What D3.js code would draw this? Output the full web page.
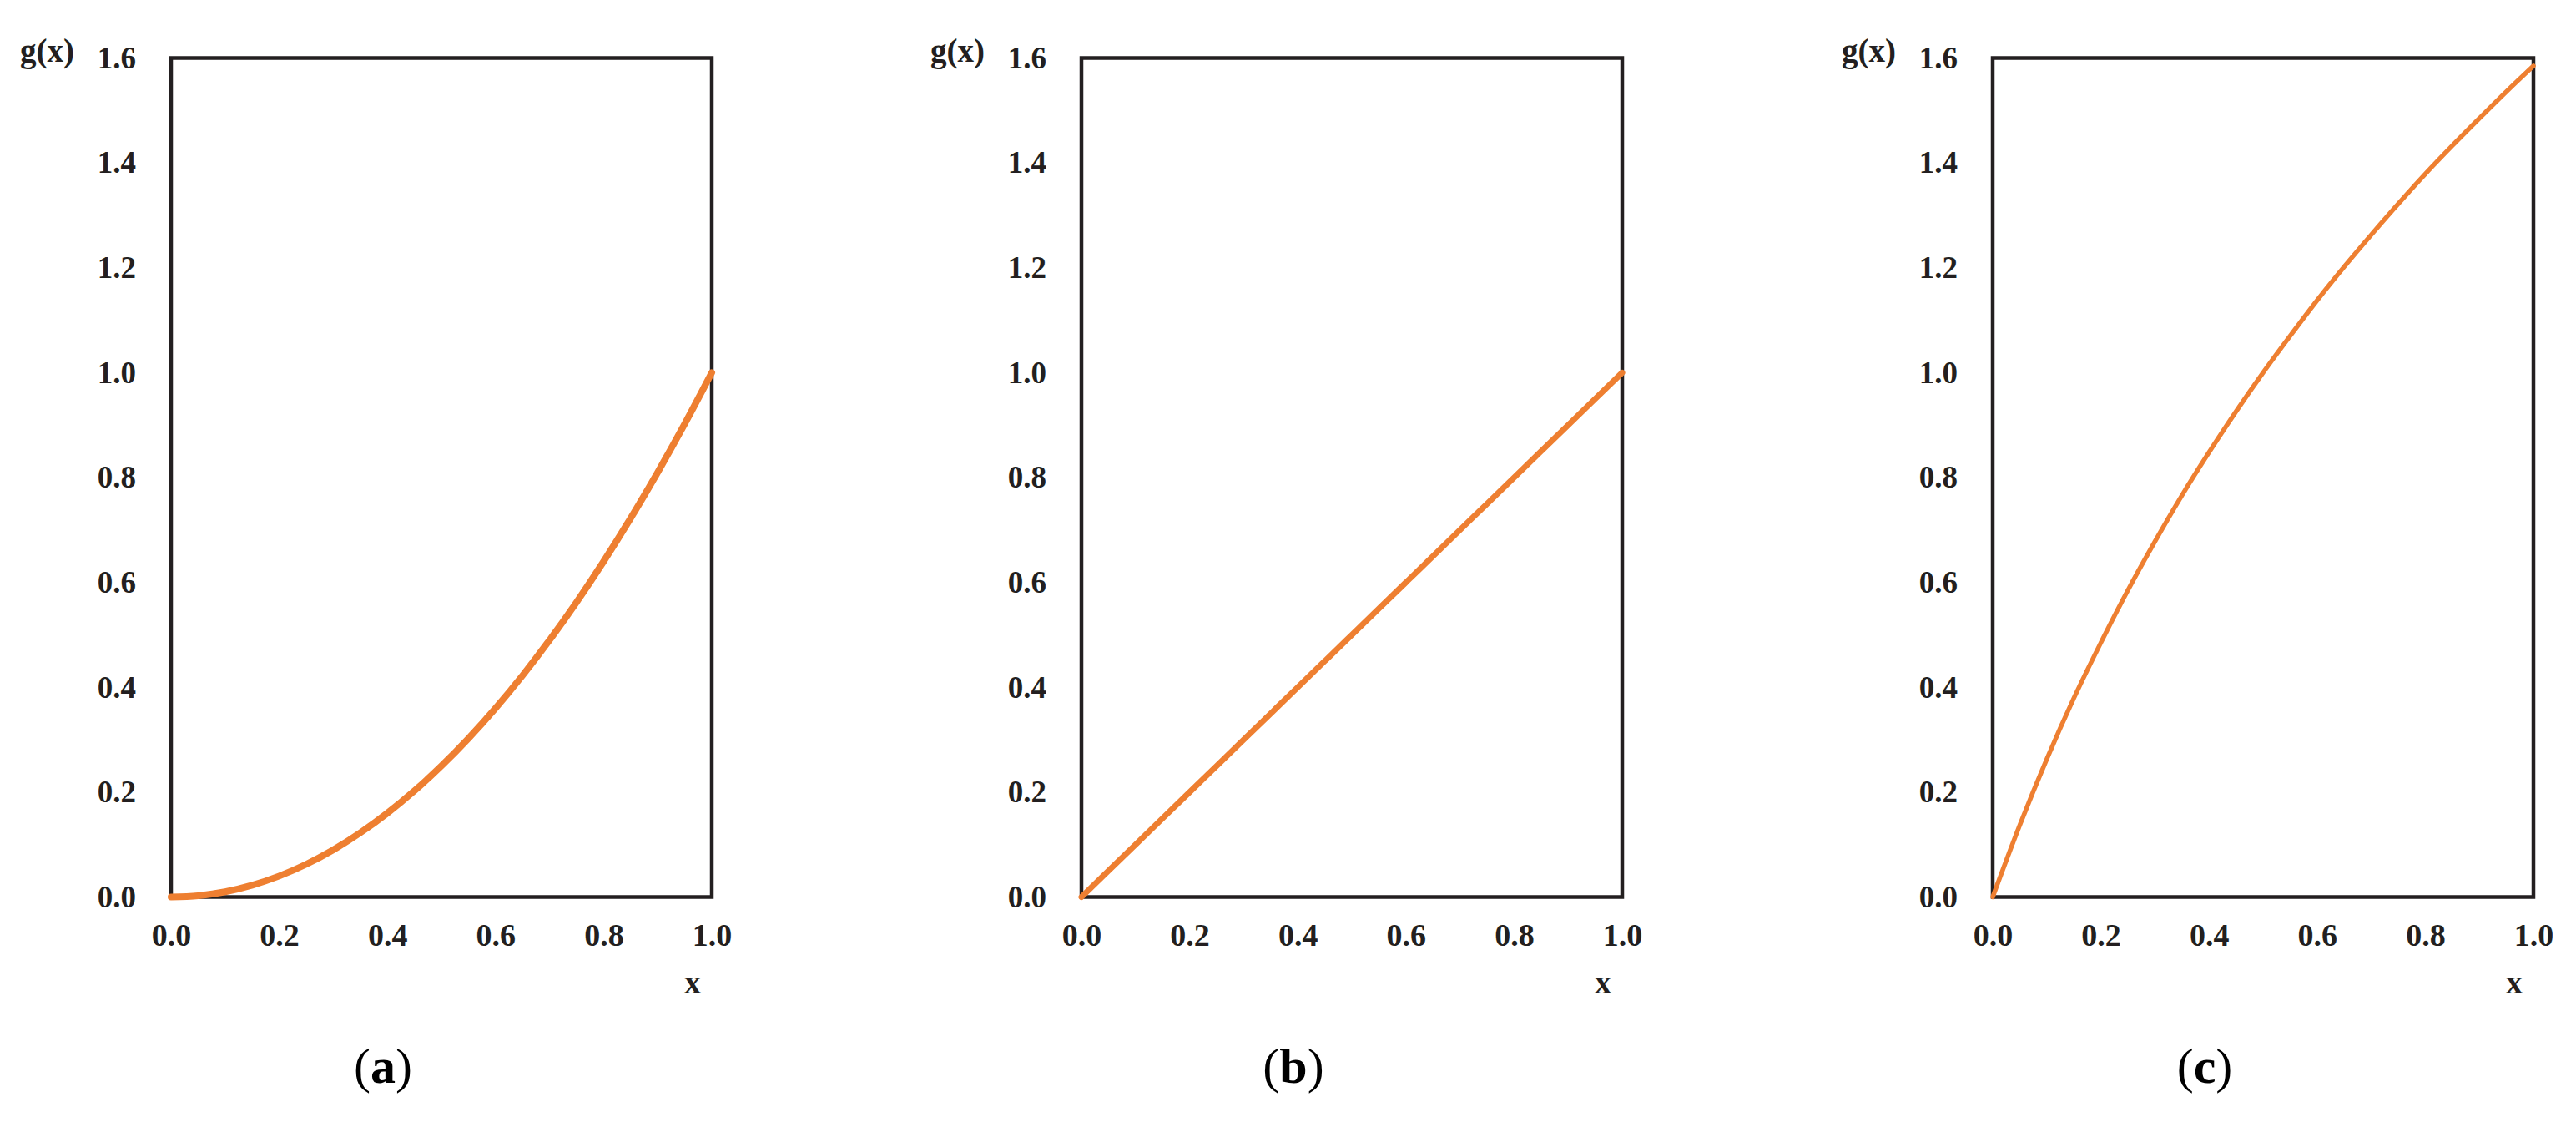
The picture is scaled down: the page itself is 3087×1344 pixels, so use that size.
<!DOCTYPE html>
<html>
<head>
<meta charset="utf-8">
<script src="https://cdn.jsdelivr.net/npm/d3@7"></script>
<style>
  body { margin: 0; background: #fff; }
  svg { display: block; }
  .tick text { font-family: "Liberation Serif", "Times New Roman", serif; font-weight: bold; fill: #231f20; }
</style>
</head>
<body>
<div id="chart"></div>
<script>
// values
const xs = [0, 0.05, 0.1, 0.15, 0.2, 0.25, 0.3, 0.35, 0.4, 0.45, 0.5, 0.55, 0.6, 0.65, 0.7, 0.75, 0.8, 0.85, 0.9, 0.95, 1.0];
const gA = [0, 0.0025, 0.01, 0.0225, 0.04, 0.0625, 0.09, 0.1225, 0.16, 0.2025, 0.25, 0.3025, 0.36, 0.4225, 0.49, 0.5625, 0.64, 0.7225, 0.81, 0.9025, 1.0];
const gB = [0, 0.05, 0.1, 0.15, 0.2, 0.25, 0.3, 0.35, 0.4, 0.45, 0.5, 0.55, 0.6, 0.65, 0.7, 0.75, 0.8, 0.85, 0.9, 0.95, 1.0];
const gC = [0, 0.137, 0.263, 0.379, 0.485, 0.585, 0.678, 0.766, 0.848, 0.926, 1.0, 1.07, 1.138, 1.202, 1.263, 1.322, 1.379, 1.433, 1.485, 1.536, 1.585];
const xTicks = [0, 0.2, 0.4, 0.6, 0.8, 1.0];
const yTicks = [0, 0.2, 0.4, 0.6, 0.8, 1.0, 1.2, 1.4, 1.6];
const panelLabels = ["a", "b", "c"];

const panels = [
  { label: panelLabels[0], values: gA, left: 205, lw: 8 },
  { label: panelLabels[1], values: gB, left: 1296, lw: 7 },
  { label: panelLabels[2], values: gC, left: 2388, lw: 5.5 }
];

const W = 3087, H = 1344;
const plotTop = 69.5, pw = 648, ph = 1005;
const ink = "#231f20", orange = "#ee7f31";
const serif = "'Liberation Serif', 'Times New Roman', serif";

const svg = d3.select("#chart").append("svg")
  .attr("width", W).attr("height", H)
  .style("background", "#fff");

const x = d3.scaleLinear().domain([0, 1]).range([0, pw]);
const y = d3.scaleLinear().domain([0, 1.6]).range([ph, 0]);

const line = d3.line()
  .x((d, i) => x(xs[i]))
  .y(d => y(d))
  .curve(d3.curveMonotoneX);

panels.forEach(p => {
  const g = svg.append("g").attr("transform", `translate(${p.left},${plotTop})`);

  // x axis
  const gx = g.append("g")
    .attr("transform", `translate(0,${ph})`)
    .call(d3.axisBottom(x).tickValues(xTicks).tickSize(0).tickFormat(d3.format(".1f")));
  gx.select(".domain").remove();
  gx.selectAll("text").attr("y", 58).attr("dy", 0).style("font-size", "38px");

  // y axis
  const gy = g.append("g")
    .call(d3.axisLeft(y).tickValues(yTicks).tickSize(0).tickPadding(42).tickFormat(d3.format(".1f")));
  gy.select(".domain").remove();
  gy.selectAll("text").style("font-size", "37px");

  // frame
  g.append("rect")
    .attr("x", 0).attr("y", 0)
    .attr("width", pw).attr("height", ph)
    .attr("fill", "none")
    .attr("stroke", ink)
    .attr("stroke-width", 4.5);

  // curve
  g.append("path")
    .datum(p.values)
    .attr("d", line)
    .attr("fill", "none")
    .attr("stroke", orange)
    .attr("stroke-width", p.lw)
    .attr("stroke-linecap", "round");

  // axis titles
  g.append("text")
    .attr("x", -181).attr("y", 4)
    .attr("font-family", serif).attr("font-weight", "bold")
    .attr("font-size", 39).attr("fill", ink)
    .text("g(x)");

  g.append("text")
    .attr("x", pw - 23).attr("y", 1190 - plotTop)
    .attr("text-anchor", "middle")
    .attr("font-family", serif).attr("font-weight", "bold")
    .attr("font-size", 40).attr("fill", ink)
    .text("x");

  // subfigure label
  const lab = g.append("text")
    .attr("x", pw / 2 - 70).attr("y", 1297 - plotTop)
    .attr("text-anchor", "middle")
    .attr("font-family", serif)
    .attr("font-size", 60).attr("fill", "#000");
  lab.append("tspan").text("(");
  lab.append("tspan").attr("font-weight", "bold").text(p.label);
  lab.append("tspan").text(")");
});
</script>
</body>
</html>
